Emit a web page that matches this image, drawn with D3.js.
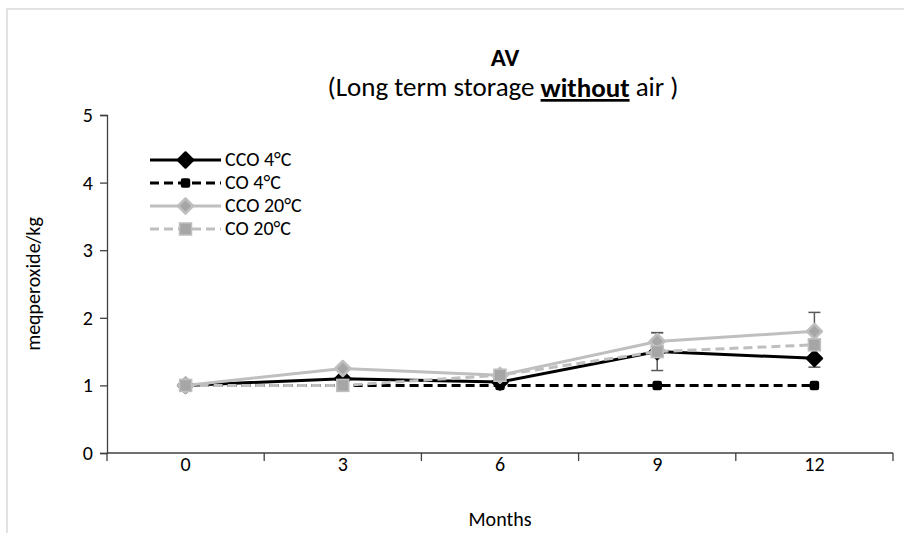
<!DOCTYPE html>
<html>
<head>
<meta charset="utf-8">
<script src="https://cdn.jsdelivr.net/npm/d3@7/dist/d3.min.js"></script>
<style>
  html, body { margin: 0; padding: 0; background: #fff; }
  svg text { font-family: Carlito, Lato, "Open Sans", sans-serif; fill: #000; }
</style>
</head>
<body>
<svg id="chart" width="904" height="533"></svg>
<script>
// Peroxide value over storage time (months)
const months = ["0", "3", "6", "9", "12"];
const yTicks = [0, 1, 2, 3, 4, 5];

const seriesNames = ["CCO 4°C", "CO 4°C", "CCO 20°C", "CO 20°C"];
const cco4Values  = [1.0, 1.1, 1.05, 1.5, 1.4];
const co4Values   = [1.0, 1.0, 1.0, 1.0, 1.0];
const cco20Values = [1.0, 1.25, 1.15, 1.65, 1.8];
const co20Values  = [1.0, 1.0, 1.15, 1.5, 1.6];

// standard deviations (null = no bar drawn)
const cco4Errors  = [null, null, null, 0.28, 0.13];
const cco20Errors = [null, null, null, 0.13, 0.28];

const svg = d3.select("#chart");

// outer chart frame
svg.append("rect")
  .attr("x", 7).attr("y", 9)
  .attr("width", 1000).attr("height", 600)
  .attr("fill", "none").attr("stroke", "#d9d9d9").attr("stroke-width", 1.5);

const plot = { left: 107, right: 893, top: 115, bottom: 453 };

const x = d3.scaleBand().domain(months).range([plot.left, plot.right]);
const y = d3.scaleLinear().domain([0, 5]).range([plot.bottom, plot.top]);
const cx = m => x(m) + x.bandwidth() / 2;

const axisColor = "#404040";
const labelSize = 20;

// y axis
const yAxis = svg.append("g")
  .attr("transform", `translate(${plot.left},0)`)
  .call(d3.axisLeft(y).tickValues(yTicks).tickSize(7).tickPadding(7).tickFormat(d3.format("d")));
yAxis.select(".domain").attr("stroke", axisColor).attr("stroke-width", 1.3);
yAxis.selectAll(".tick line").attr("stroke", axisColor).attr("stroke-width", 1.3);
yAxis.selectAll(".tick text").attr("font-size", labelSize).attr("fill", "#000");

// x axis (category boundaries carry the ticks)
const xAxisG = svg.append("g");
xAxisG.append("line")
  .attr("x1", plot.left).attr("x2", plot.right)
  .attr("y1", y(0)).attr("y2", y(0))
  .attr("stroke", axisColor).attr("stroke-width", 1.3);
const bounds = months.map(m => x(m)).concat([x(months[months.length - 1]) + x.bandwidth()]);
xAxisG.selectAll("line.tick").data(bounds).join("line")
  .attr("class", "tick")
  .attr("x1", d => d).attr("x2", d => d)
  .attr("y1", y(0)).attr("y2", y(0) + 8)
  .attr("stroke", axisColor).attr("stroke-width", 1.3);
xAxisG.selectAll("text").data(months).join("text")
  .attr("x", d => cx(d)).attr("y", y(0) + 13)
  .attr("text-anchor", "middle").attr("dominant-baseline", "middle")
  .attr("font-size", labelSize).text(d => d);

// axis titles
svg.append("text")
  .attr("x", (plot.left + plot.right) / 2).attr("y", 521)
  .attr("text-anchor", "middle").attr("dominant-baseline", "middle")
  .attr("font-size", labelSize).text("Months");
svg.append("text")
  .attr("transform", `translate(35,${(plot.top + plot.bottom) / 2}) rotate(-90)`)
  .attr("text-anchor", "middle").attr("dominant-baseline", "middle")
  .attr("font-size", labelSize).text("meqperoxide/kg");

// chart title
svg.append("text")
  .attr("x", 505).attr("y", 60)
  .attr("text-anchor", "middle").attr("dominant-baseline", "middle")
  .attr("font-size", 25).attr("font-weight", "bold").text("AV");
const sub = svg.append("text")
  .attr("x", 503).attr("y", 90)
  .attr("text-anchor", "middle").attr("dominant-baseline", "middle")
  .attr("font-size", 27);
sub.append("tspan").text("(Long term storage ");
sub.append("tspan").attr("font-weight", "bold").attr("text-decoration", "underline").text("without");
sub.append("tspan").text(" air )");

// series styling
const series = [
  { name: seriesNames[0], values: cco4Values,  errors: cco4Errors,  stroke: "#000", dash: null,   marker: "diamond", fill: "#000",    mstroke: "#000",    size: 15 },
  { name: seriesNames[1], values: co4Values,   errors: null,        stroke: "#000", dash: "9,5",  marker: "square",  fill: "#000",    mstroke: "#000",    size: 8 },
  { name: seriesNames[2], values: cco20Values, errors: cco20Errors, stroke: "#bfbfbf", dash: null,  marker: "diamond", fill: "#a6a6a6", mstroke: "#bfbfbf", size: 15 },
  { name: seriesNames[3], values: co20Values,  errors: null,        stroke: "#bfbfbf", dash: "9,5", marker: "square",  fill: "#a6a6a6", mstroke: "#bfbfbf", size: 12 }
];

function drawMarker(g, s, px, py) {
  if (s.marker === "diamond") {
    const h = s.size / 2;
    g.append("path")
      .attr("d", `M${px},${py - h}L${px + h},${py}L${px},${py + h}L${px - h},${py}Z`)
      .attr("fill", s.fill).attr("stroke", s.mstroke).attr("stroke-width", 2.5)
      .attr("stroke-linejoin", "round");
  } else {
    const h = s.size / 2;
    g.append("rect")
      .attr("x", px - h).attr("y", py - h).attr("width", s.size).attr("height", s.size)
      .attr("fill", s.fill).attr("stroke", s.mstroke).attr("stroke-width", 1.5)
      .attr("rx", s.size < 10 ? 1.5 : 0);
  }
}

const line = d3.line().x((d, i) => cx(months[i])).y(d => y(d));
const errColor = "#595959";

series.forEach(s => {
  const g = svg.append("g");
  // error bars
  if (s.errors) {
    s.errors.forEach((e, i) => {
      if (e == null) return;
      const px = cx(months[i]);
      const y1 = y(s.values[i] + e), y2 = y(s.values[i] - e);
      g.append("line").attr("x1", px).attr("x2", px).attr("y1", y1).attr("y2", y2)
        .attr("stroke", errColor).attr("stroke-width", 1.5);
      [y1, y2].forEach(yy => g.append("line")
        .attr("x1", px - 6).attr("x2", px + 6).attr("y1", yy).attr("y2", yy)
        .attr("stroke", errColor).attr("stroke-width", 1.5));
    });
  }
  g.append("path").datum(s.values)
    .attr("d", line)
    .attr("fill", "none").attr("stroke", s.stroke).attr("stroke-width", 3)
    .attr("stroke-dasharray", s.dash);
  s.values.forEach((v, i) => drawMarker(g, s, cx(months[i]), y(v)));
});

// legend
const legendRows = [160, 183, 206, 229];
series.forEach((s, i) => {
  const g = svg.append("g");
  const ly = legendRows[i];
  g.append("line").attr("x1", 150).attr("x2", 221).attr("y1", ly).attr("y2", ly)
    .attr("stroke", s.stroke).attr("stroke-width", 3).attr("stroke-dasharray", s.dash);
  drawMarker(g, s, 185.5, ly);
  g.append("text").attr("x", 225).attr("y", ly + 1)
    .attr("dominant-baseline", "middle").attr("font-size", labelSize).text(s.name);
});
</script>
</body>
</html>
